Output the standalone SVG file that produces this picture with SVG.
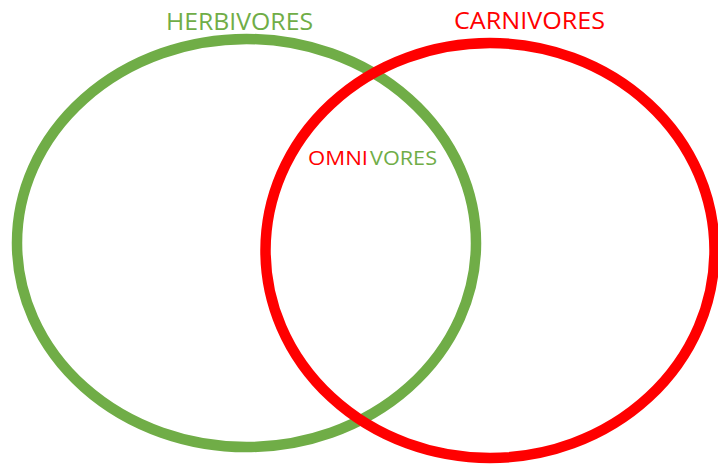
<svg xmlns="http://www.w3.org/2000/svg" width="718" height="468" viewBox="0 0 718 468">
<style>
.lbl{font-family:"Open Sans","Liberation Sans",sans-serif;}
.big{font-size:23px;}
.small{font-size:19.5px;}
.g{fill:#70AD47;}
.r{fill:#FF0000;}
.ring{fill:none;stroke-width:10.5;}
</style>
<rect width="718" height="468" fill="#ffffff"/>
<g id="herbivores">
<ellipse class="ring" cx="246.5" cy="243" rx="229.5" ry="204" stroke="#70AD47"/>
<text class="lbl big g" x="166" y="30" textLength="147" lengthAdjust="spacingAndGlyphs">HERBIVORES</text>
</g>
<g id="carnivores">
<ellipse class="ring" cx="490" cy="250.5" rx="224.5" ry="207.5" stroke="#FF0000"/>
<text class="lbl big r" x="454" y="29" textLength="151" lengthAdjust="spacingAndGlyphs">CARNIVORES</text>
</g>
<g id="omnivores">
<text class="lbl small" x="308" y="165"><tspan class="r" textLength="60" lengthAdjust="spacingAndGlyphs">OMNI</tspan><tspan class="g" x="370" textLength="67" lengthAdjust="spacingAndGlyphs">VORES</tspan></text>
</g>
<g id="connectors"></g>
</svg>
